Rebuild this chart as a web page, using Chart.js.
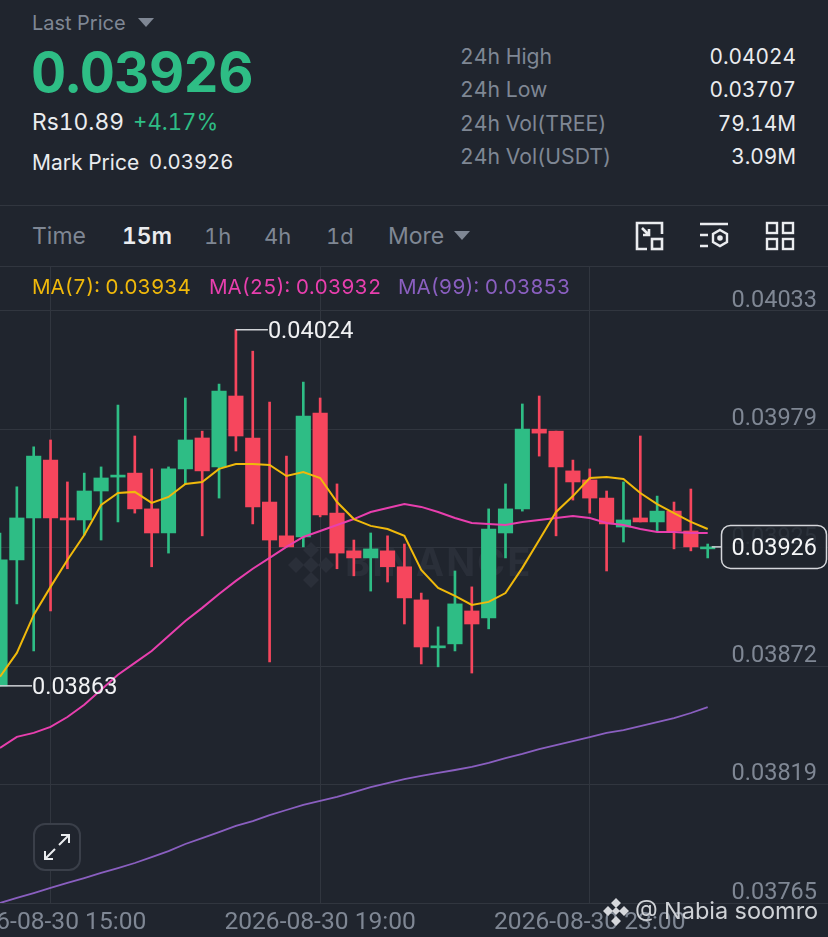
<!DOCTYPE html>
<html>
<head>
<meta charset="utf-8">
<title>TREE/USDT 15m</title>
<script src="https://cdn.jsdelivr.net/npm/chart.js@4/dist/chart.umd.min.js"></script>
<style>
html, body { margin: 0; padding: 0; background: #20252e; }
body { width: 828px; height: 937px; position: relative; overflow: hidden; font-family: 'Inter', sans-serif; font-feature-settings: 'tnum'; color: #eaecef; }
.t { position: absolute; white-space: nowrap; line-height: 1; transform: translateY(-50%); }
.dim { color: #7f8794; }
.rule { position: absolute; left: 0; width: 828px; height: 1px; background: #31363f; }
canvas { position: absolute; left: 0; top: 267px; }
svg { position: absolute; }
.tri { position: absolute; width: 0; height: 0; border-left: 8px solid transparent; border-right: 8px solid transparent; border-top: 9px solid #7f8794; }
</style>
</head>
<body>
<div class="t dim" style="left:32px;top:23px;font-size:20px">Last Price</div>
<div class="tri" style="left:138px;top:18px"></div>
<div class="t" id="lastPrice" style="left:31px;top:72px;font-size:54.5px;font-weight:700;color:#2ebd85;letter-spacing:-0.6px"></div>
<div class="t" style="left:32px;top:122px;font-size:22.8px">Rs10.89</div>
<div class="t" style="left:133px;top:122px;font-size:22.2px;color:#2ebd85">+4.17%</div>
<div class="t" style="left:32px;top:162px;font-size:21px">Mark Price</div>
<div class="t" style="left:149px;top:162px;font-size:20.3px" id="markPrice"></div>
<div id="stats"></div>
<div class="rule" style="top:205px"></div>
<div id="tabs"></div>
<div class="tri" style="left:454px;top:231px"></div>
<svg style="left:634px;top:221px" width="32" height="30" viewBox="0 0 32 30" fill="none" stroke="#eaecef" stroke-width="2.6">
  <path d="M13 28H3V2H28V13"/><rect x="18" y="18" width="10" height="10"/><path d="M8 7L15 14M15 8V14H9"/>
</svg>
<svg style="left:698px;top:222px" width="32" height="28" viewBox="0 0 32 28" fill="none" stroke="#eaecef" stroke-width="2.4">
  <path d="M2 2H30M2 13H10M2 24H10"/><path d="M22 8L29 12V20L22 24L15 20V12Z"/><circle cx="22" cy="16" r="1.6" fill="#eaecef"/>
</svg>
<svg style="left:765px;top:221px" width="30" height="30" viewBox="0 0 30 30" fill="none" stroke="#eaecef" stroke-width="2.4">
  <rect x="2" y="2" width="10" height="10"/><rect x="18" y="2" width="10" height="10"/><rect x="2" y="18" width="10" height="10"/><rect x="18" y="18" width="10" height="10"/>
</svg>
<div class="rule" style="top:266px"></div>
<canvas id="klineChart" width="828" height="670" style="width:828px;height:670px"></canvas>
<div id="maLegend"></div>
<svg style="left:33px;top:823px" width="48" height="48" viewBox="0 0 48 48" fill="#20252e" stroke="#3a3f49" stroke-width="2">
  <rect x="1" y="1" width="46" height="46" rx="11"/>
  <path d="M26 22L36 12M28 12H36V20M22 26L12 36M12 28V36H20" fill="none" stroke="#eaecef"/>
</svg>
<svg style="left:602px;top:897px" width="28" height="30" viewBox="0 0 28 30" fill="#d5d7db">
  <path d="M14 1L19 6L14 11L9 6ZM6 9L11 14L6 19L1 14ZM22 9L27 14L22 19L17 14ZM14 10L18 14L14 18L10 14ZM14 19L19 24L14 29L9 24Z"/>
</svg>
<div class="t" style="left:635px;top:911px;font-size:23.5px;color:#cfd2d6">@ Nabia soomro</div>

<script>
// 15m candles, left to right
const candleTimes = [
    '14:15','14:30','14:45','15:00','15:15','15:30','15:45','16:00','16:15','16:30','16:45',
    '17:00','17:15','17:30','17:45','18:00','18:15','18:30','18:45','19:00','19:15','19:30',
    '19:45','20:00','20:15','20:30','20:45','21:00','21:15','21:30','21:45','22:00','22:15',
    '22:30','22:45','23:00','23:15','23:30','23:45','00:00','00:15','00:30','00:45'
];
const opens = [
    0.038633,0.039203,0.039393,0.039655,0.039393,0.039384,0.039515,0.039578,0.039596,0.039434,0.039325,
    0.039615,0.039755,0.039624,0.039945,0.039755,0.039465,0.039312,0.039307,0.039868,0.039415,0.039244,
    0.039212,0.039244,0.039172,0.039022,0.038805,0.038823,0.038972,0.038940,0.039325,0.039434,0.039795,
    0.039786,0.039606,0.039565,0.039483,0.039352,0.039393,0.039375,0.039424,0.039334,0.039253
];
const highs = [
    0.039325,0.039534,0.039715,0.039746,0.039556,0.039596,0.039624,0.039904,0.039764,0.039615,0.039624,
    0.039936,0.039786,0.039999,0.040245,0.040148,0.039918,0.039673,0.040008,0.039936,0.039547,0.039293,
    0.039325,0.039312,0.039275,0.039053,0.038900,0.039153,0.039081,0.039434,0.039547,0.039909,0.039945,
    0.039786,0.039655,0.039615,0.039515,0.039556,0.039764,0.039492,0.039465,0.039524,0.039275
];
const lows = [
    0.038633,0.039004,0.038791,0.038972,0.039163,0.039316,0.039293,0.039375,0.039415,0.039172,0.039234,
    0.039547,0.039312,0.039483,0.039696,0.039366,0.038741,0.039262,0.039262,0.039398,0.039163,0.039131,
    0.039062,0.039103,0.038913,0.038732,0.038719,0.038791,0.038691,0.038891,0.039212,0.039424,0.039673,
    0.039312,0.039474,0.039415,0.039153,0.039284,0.039375,0.039334,0.039253,0.039244,0.039212
];
const closes = [
    0.039203,0.039393,0.039673,0.039393,0.039384,0.039515,0.039574,0.039587,0.039434,0.039325,0.039615,
    0.039746,0.039606,0.039967,0.039764,0.039443,0.039293,0.039262,0.039854,0.039407,0.039234,0.039212,
    0.039253,0.039172,0.039031,0.038809,0.038814,0.039004,0.038913,0.039343,0.039434,0.039795,0.039777,
    0.039624,0.039556,0.039483,0.039366,0.039384,0.039375,0.039424,0.039334,0.039262,0.039262
];
const ma7 = [
    0.038674,0.038782,0.038954,0.039081,0.039203,0.039316,0.039452,0.039506,0.039511,0.039461,0.039488,
    0.039547,0.039556,0.039615,0.039637,0.039637,0.039633,0.039583,0.039601,0.039574,0.039465,0.039388,
    0.039357,0.039343,0.039312,0.039158,0.039076,0.039040,0.038999,0.039013,0.039053,0.039167,0.039293,
    0.039420,0.039492,0.039574,0.039578,0.039569,0.039506,0.039456,0.039415,0.039375,0.039343
];
const ma25 = [
    0.038352,0.038402,0.038420,0.038447,0.038492,0.038547,0.038615,0.038683,0.038737,0.038791,0.038859,
    0.038927,0.038986,0.039049,0.039108,0.039163,0.039212,0.039262,0.039307,0.039334,0.039361,0.039388,
    0.039420,0.039438,0.039456,0.039443,0.039420,0.039393,0.039370,0.039366,0.039361,0.039375,0.039384,
    0.039393,0.039402,0.039393,0.039370,0.039361,0.039343,0.039329,0.039329,0.039325,0.039325
];
const ma99 = [
    0.037650,0.037673,0.037695,0.037718,0.037741,0.037763,0.037786,0.037808,0.037831,0.037858,0.037885,
    0.037917,0.037944,0.037971,0.037999,0.038021,0.038048,0.038071,0.038094,0.038112,0.038130,0.038152,
    0.038175,0.038193,0.038211,0.038225,0.038239,0.038252,0.038266,0.038284,0.038306,0.038325,0.038347,
    0.038365,0.038383,0.038401,0.038420,0.038433,0.038451,0.038469,0.038487,0.038510,0.038537
];
const priceTicks = [0.04033, 0.039794, 0.039258, 0.038722, 0.038186, 0.03765];
const priceTickLabels = ['0.04033', '0.03979', '0.03925', '0.03872', '0.03819', '0.03765'];
const timeTickIndex = [3, 19, 35];
const timeTickLabels = ['2026-08-30 15:00', '2026-08-30 19:00', '2026-08-30 23:00'];
const statRows = [['24h High', '0.04024'], ['24h Low', '0.03707'], ['24h Vol(TREE)', '79.14M'], ['24h Vol(USDT)', '3.09M']];
const tabs = [['Time', 32, 23], ['15m', 122, 22.8], ['1h', 204, 22], ['4h', 264, 22], ['1d', 326, 22], ['More', 388, 23]];

const GREEN = '#2ebd85';
const RED = '#f6465d';
const YELLOW = '#f0b90b';
const PINK = '#e83fae';
const PURPLE = '#8a5fc0';
const GRID = '#31363f';
const AXIS_FONT = 'Roboto';

// header text
document.getElementById('lastPrice').textContent = closes[closes.length - 1].toFixed(5);
document.getElementById('markPrice').textContent = closes[closes.length - 1].toFixed(5);
document.getElementById('stats').innerHTML = statRows.map((r, i) => {
    const y = 57 + i * 33.4;
    return `<div class="t dim" style="left:460px;top:${y}px;font-size:21.2px">${r[0]}</div>` +
        `<div class="t" style="right:32px;top:${y}px;font-size:20.8px">${r[1]}</div>`;
}).join('');
document.getElementById('tabs').innerHTML = tabs.map((t) => {
    const on = t[0] === '15m';
    return `<div class="t ${on ? '' : 'dim'}" style="left:${t[1]}px;top:236px;font-size:${t[2]}px;font-weight:${on ? 600 : 400}">${t[0]}</div>`;
}).join('');
document.getElementById('maLegend').innerHTML = [
    ['MA(7)', YELLOW, 32, '0.03934'],
    ['MA(25)', PINK, 209, '0.03932'],
    ['MA(99)', PURPLE, 398, '0.03853']
].map((m) => `<div class="t" style="left:${m[2]}px;top:287px;font-size:20.6px;color:${m[1]}">${m[0]}: ${m[3]}</div>`).join('');

const isUp = (i) => closes[i] >= opens[i];
const candleColor = (ctx) => (isUp(ctx.dataIndex) ? GREEN : RED);

// watermark under the candles, high/low callouts and last price box above them
const overlay = {
    id: 'overlay',
    beforeDatasetsDraw(chart) {
        const c = chart.ctx;
        c.save();
        c.fillStyle = '#2a2f39';
        const cx = 311, cy = 298;
        [[0, 0, 8], [-15, 0, 8], [15, 0, 8], [0, -15, 8], [0, 15, 8]].forEach((d) => {
            const x = cx + d[0], y = cy + d[1], r = d[2];
            c.beginPath();
            c.moveTo(x, y - r); c.lineTo(x + r, y); c.lineTo(x, y + r); c.lineTo(x - r, y);
            c.closePath();
            c.fill();
        });
        c.font = '700 38px Inter';
        c.letterSpacing = '2px';
        c.textBaseline = 'middle';
        c.fillText('BINANCE', 345, 298);
        c.restore();
    },
    afterDatasetsDraw(chart) {
        const c = chart.ctx;
        const xs = chart.scales.x, ys = chart.scales.y;
        c.save();
        c.font = '23.5px ' + AXIS_FONT;
        c.textBaseline = 'middle';
        c.lineWidth = 1.5;
        c.strokeStyle = '#cfd2d6';
        c.fillStyle = '#f0f1f3';
        const hi = highs.indexOf(Math.max(...highs));
        const lo = lows.indexOf(Math.min(...lows));
        [[hi, highs[hi], '0.04024'], [lo, lows[lo], '0.03863']].forEach((p) => {
            const x = xs.getPixelForValue(p[0]), y = ys.getPixelForValue(p[1]);
            c.beginPath();
            c.moveTo(x, y);
            c.lineTo(x + 32, y);
            c.stroke();
            c.fillText(p[2], x + 32, y + 2);
        });
        // last price tag
        const last = closes.length - 1;
        const ly = ys.getPixelForValue(closes[last]);
        c.beginPath();
        c.moveTo(xs.getPixelForValue(last) + 4, ly);
        c.lineTo(721, ly);
        c.stroke();
        c.beginPath();
        c.roundRect(721.5, ly - 21.5, 105, 43, 9);
        c.fillStyle = 'rgba(32,37,46,0.88)';
        c.fill();
        c.strokeStyle = '#d5d7db';
        c.stroke();
        c.fillStyle = '#f5f6f7';
        c.textAlign = 'right';
        c.fillText(closes[last].toFixed(5), 817, ly + 2);
        c.restore();
    }
};

const xIndex = candleTimes.map((t, i) => i);

new Chart(document.getElementById('klineChart').getContext('2d'), {
    type: 'bar',
    plugins: [overlay],
    data: {
        datasets: [
            { type: 'line', label: 'MA(7)', data: xIndex.map((i) => ({ x: i, y: ma7[i] })), borderColor: YELLOW, borderWidth: 2, pointRadius: 0, tension: 0, order: 1 },
            { type: 'line', label: 'MA(25)', data: xIndex.map((i) => ({ x: i, y: ma25[i] })), borderColor: PINK, borderWidth: 2, pointRadius: 0, tension: 0, order: 1 },
            { type: 'line', label: 'MA(99)', data: xIndex.map((i) => ({ x: i, y: ma99[i] })), borderColor: PURPLE, borderWidth: 1.8, pointRadius: 0, tension: 0, order: 1 },
            { label: 'body', data: xIndex.map((i) => ({ x: i, y: [opens[i], closes[i]] })), backgroundColor: candleColor, barThickness: 14.5, minBarLength: 2, grouped: false, order: 2 },
            { label: 'wick', data: xIndex.map((i) => ({ x: i, y: [lows[i], highs[i]] })), backgroundColor: candleColor, barThickness: 2, grouped: false, order: 3 }
        ]
    },
    options: {
        responsive: false,
        animation: false,
        devicePixelRatio: 1,
        layout: { padding: 0 },
        plugins: { legend: { display: false }, tooltip: { enabled: false } },
        scales: {
            x: {
                type: 'linear',
                offset: false,
                min: 0,
                max: 49.139,
                afterBuildTicks(scale) { scale.ticks = timeTickIndex.map((v) => ({ value: v })); },
                afterFit(scale) { scale.height = 34; scale.paddingLeft = 0; scale.paddingRight = 0; },
                grid: { color: GRID, drawTicks: false, offset: false },
                border: { display: false },
                ticks: {
                    autoSkip: false,
                    maxRotation: 0,
                    minRotation: 0,
                    padding: 5,
                    color: '#7f8794',
                    font: { family: AXIS_FONT, size: 24.6 },
                    callback: (v) => timeTickLabels[timeTickIndex.indexOf(v)]
                }
            },
            y: {
                position: 'right',
                min: 0.03765,
                max: 0.040529,
                afterBuildTicks(scale) { scale.ticks = priceTicks.map((v) => ({ value: v })); },
                afterFit(scale) { scale.width = 0; scale.paddingTop = 0; scale.paddingBottom = 0; },
                grid: { color: GRID, drawTicks: false },
                border: { display: false },
                ticks: {
                    mirror: true,
                    padding: -11,
                    labelOffset: -10,
                    color: '#7f8794',
                    font: { family: AXIS_FONT, size: 23.5 },
                    callback: (v, i) => priceTickLabels[i]
                }
            }
        }
    }
});
</script>
</body>
</html>
